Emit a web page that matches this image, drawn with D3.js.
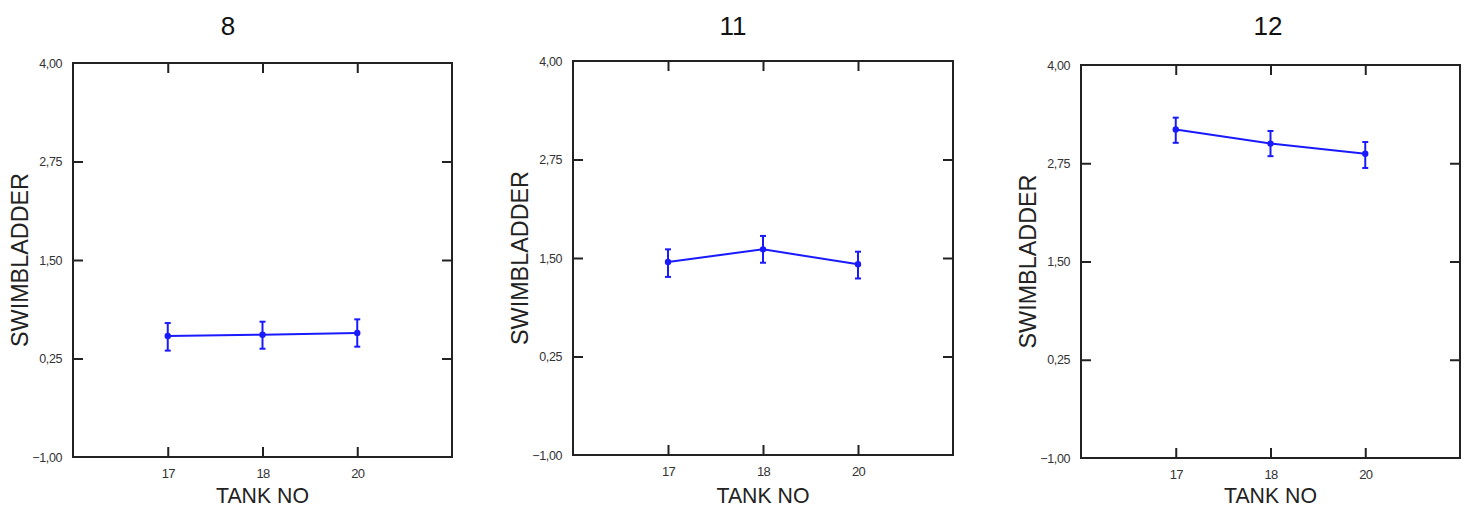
<!DOCTYPE html>
<html><head><meta charset="utf-8">
<script src="https://cdn.jsdelivr.net/npm/d3@7/dist/d3.min.js"></script>
<style>body{margin:0;background:#fff}svg{display:block}</style>
</head><body>
<svg id="c" width="1469" height="509"></svg>
<script>
const categories = ["17","18","20"];
const panelTitles = ["8","11","12"];
const yTicks = [-1.00, 0.25, 1.50, 2.75, 4.00];
const means8  = [0.535, 0.552, 0.574];
const lower8  = [0.35, 0.374, 0.40];
const upper8  = [0.70, 0.717, 0.747];
const means11 = [1.45, 1.61, 1.42];
const lower11 = [1.26, 1.44, 1.24];
const upper11 = [1.61, 1.78, 1.58];
const means12 = [3.18, 3.00, 2.87];
const lower12 = [3.01, 2.84, 2.69];
const upper12 = [3.33, 3.16, 3.02];

const series = [
  {title: panelTitles[0], mean: means8,  lo: lower8,  hi: upper8},
  {title: panelTitles[1], mean: means11, lo: lower11, hi: upper11},
  {title: panelTitles[2], mean: means12, lo: lower12, hi: upper12}
];
const layout = [
  {x0: 73,   x1: 452,  y0: 63, y1: 457, tx: 228},
  {x0: 573,  x1: 953,  y0: 61, y1: 455, tx: 733},
  {x0: 1081, x1: 1460, y0: 65, y1: 458, tx: 1268}
];
const fmt = v => d3.format(".2f")(v).replace(".", ",");
const blue = "#1a1aff";
const svg = d3.select("#c");
const FONT = "'Liberation Sans', Arial, sans-serif";

series.forEach((s, i) => {
  const L = layout[i];
  const x = d3.scalePoint().domain(categories).range([L.x0, L.x1]).padding(1);
  const y = d3.scaleLinear().domain([-1, 4]).range([L.y1, L.y0]);
  const g = svg.append("g");

  g.append("rect").attr("x", L.x0).attr("y", L.y0)
    .attr("width", L.x1 - L.x0).attr("height", L.y1 - L.y0)
    .attr("fill", "none").attr("stroke", "#222").attr("stroke-width", 2);

  const left = g.append("g").attr("transform", `translate(${L.x0},0)`)
    .call(d3.axisLeft(y).tickValues(yTicks).tickSize(-10).tickPadding(11).tickFormat(fmt));
  left.select(".domain").remove();
  left.selectAll(".tick line").attr("stroke", "#222").attr("stroke-width", 2)
    .filter(d => d === -1 || d === 4).remove();
  left.selectAll(".tick text").attr("font-family", FONT).attr("font-size", 12.5)
    .attr("fill", "#333").attr("letter-spacing", "-0.4px");

  const right = g.append("g").attr("transform", `translate(${L.x1},0)`)
    .call(d3.axisRight(y).tickValues(yTicks.filter(v => v > -1 && v < 4)).tickSize(-10).tickFormat(""));
  right.select(".domain").remove();
  right.selectAll(".tick line").attr("stroke", "#222").attr("stroke-width", 2);

  const bottom = g.append("g").attr("transform", `translate(0,${L.y1})`)
    .call(d3.axisBottom(x).tickSize(-10).tickPadding(12));
  bottom.select(".domain").remove();
  bottom.selectAll(".tick line").attr("stroke", "#222").attr("stroke-width", 2);
  bottom.selectAll(".tick text").attr("font-family", FONT).attr("font-size", 13)
    .attr("fill", "#333").attr("letter-spacing", "-0.8px");

  const top = g.append("g").attr("transform", `translate(0,${L.y0})`)
    .call(d3.axisTop(x).tickSize(-10).tickFormat(""));
  top.select(".domain").remove();
  top.selectAll(".tick line").attr("stroke", "#222").attr("stroke-width", 2);

  g.append("text").attr("x", L.tx).attr("y", 35).attr("text-anchor", "middle")
    .attr("font-family", FONT).attr("font-size", 26).attr("fill", "#111").text(s.title);
  g.append("text").attr("x", (L.x0 + L.x1) / 2).attr("y", 503).attr("text-anchor", "middle")
    .attr("font-family", FONT).attr("font-size", 22).attr("fill", "#222")
    .attr("textLength", 93).attr("lengthAdjust", "spacingAndGlyphs").text("TANK  NO");
  g.append("text").attr("transform", `translate(${L.x0 - 45},${(L.y0 + L.y1) / 2}) rotate(-90)`)
    .attr("text-anchor", "middle").attr("font-family", FONT).attr("font-size", 23)
    .attr("textLength", 174).attr("lengthAdjust", "spacingAndGlyphs")
    .attr("fill", "#222").text("SWIMBLADDER");

  const pts = categories.map((c, k) => ({c, m: s.mean[k], lo: s.lo[k], hi: s.hi[k]}));
  g.append("path").datum(pts)
    .attr("d", d3.line().x(d => x(d.c)).y(d => y(d.m)))
    .attr("fill", "none").attr("stroke", blue).attr("stroke-width", 2);
  const eb = g.selectAll(".eb").data(pts).enter().append("g");
  eb.append("line").attr("x1", d => x(d.c)).attr("x2", d => x(d.c))
    .attr("y1", d => y(d.lo)).attr("y2", d => y(d.hi))
    .attr("stroke", blue).attr("stroke-width", 2);
  ["lo", "hi"].forEach(k => {
    eb.append("line").attr("x1", d => x(d.c) - 3).attr("x2", d => x(d.c) + 3)
      .attr("y1", d => y(d[k])).attr("y2", d => y(d[k]))
      .attr("stroke", blue).attr("stroke-width", 2);
  });
  eb.append("circle").attr("cx", d => x(d.c)).attr("cy", d => y(d.m)).attr("r", 3.2)
    .attr("fill", blue);
});
</script>
</body></html>
